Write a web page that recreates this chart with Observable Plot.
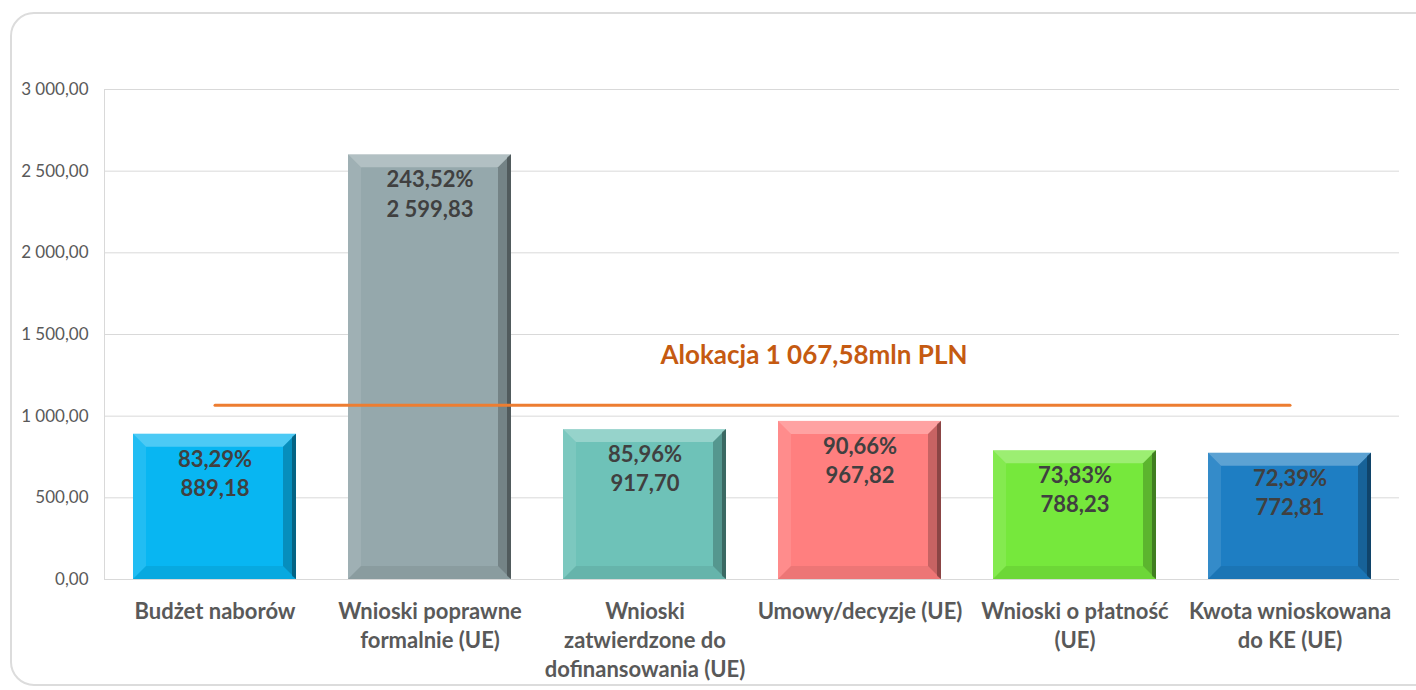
<!DOCTYPE html>
<html>
<head>
<meta charset="utf-8">
<script src="https://cdn.jsdelivr.net/npm/d3@7"></script>
<script src="https://cdn.jsdelivr.net/npm/@observablehq/plot@0.6"></script>
<style>
  html, body { margin: 0; padding: 0; background: #fff; }
  #wrap { position: relative; width: 1416px; height: 690px; overflow: hidden; }
  #border { position: absolute; left: 10px; top: 12px; width: 1430px; height: 674px;
            border: 2px solid #dcdcdc; border-radius: 24px; box-sizing: border-box; }
  #chart { position: absolute; left: 0; top: 0; }
</style>
</head>
<body>
<div id="wrap"><div id="border"></div><div id="chart"></div></div>
<script>
const categories = [
  "Budżet naborów",
  "Wnioski poprawne formalnie (UE)",
  "Wnioski zatwierdzone do dofinansowania (UE)",
  "Umowy/decyzje (UE)",
  "Wnioski o płatność (UE)",
  "Kwota wnioskowana do KE (UE)"
];
const categoryLabels = [
  "Budżet naborów",
  "Wnioski poprawne\nformalnie (UE)",
  "Wnioski\nzatwierdzone do\ndofinansowania (UE)",
  "Umowy/decyzje (UE)",
  "Wnioski o płatność\n(UE)",
  "Kwota wnioskowana\ndo KE (UE)"
];
const values = [889.18, 2599.83, 917.70, 967.82, 788.23, 772.81];
const percents = ["83,29%", "243,52%", "85,96%", "90,66%", "73,83%", "72,39%"];
const colors = ["#08B6F2", "#95A8AC", "#6EC2B8", "#FF7F7F", "#76E83C", "#1E7EC3"];
const yTicks = [0, 500, 1000, 1500, 2000, 2500, 3000];
const allocation = 1067.58;
const allocationLabel = "Alokacja 1 067,58mln PLN";

const pl = d3.formatLocale({decimal: ",", thousands: "\u00a0", grouping: [3], currency: ["", ""]});
const fmt = pl.format(",.2f");

const data = categories.map((c, i) => ({
  cat: c, value: values[i], color: colors[i],
  label: percents[i] + "\n" + fmt(values[i])
}));
const labelMap = new Map(categories.map((c, i) => [c, categoryLabels[i]]));

function bevel(index, scales, vals, dimensions, context, next) {
  const g = next(index, scales, vals, dimensions, context);
  const ns = "http://www.w3.org/2000/svg";
  const rects = Array.from(g.querySelectorAll("rect"));
  for (const r of rects) {
    const x = +r.getAttribute("x"), y = +r.getAttribute("y");
    const w = +r.getAttribute("width"), h = +r.getAttribute("height");
    const b = Math.min(13, h / 2, w / 2);
    const polys = [
      [[[x, y], [x + w, y], [x + w - b, y + b], [x + b, y + b]], "white", 0.28],
      [[[x, y], [x + b, y + b], [x + b, y + h - b], [x, y + h]], "white", 0.1],
      [[[x + w, y], [x + w, y + h], [x + w - b, y + h - b], [x + w - b, y + b]], "black", 0.22],
      [[[x, y + h], [x + w, y + h], [x + w - b, y + h - b], [x + b, y + h - b]], "black", 0.07],
      [[[x + w - 4, y + 3], [x + w, y], [x + w, y + h], [x + w - 4, y + h - 3]], "black", 0.3]
    ];
    for (const [pts, fill, op] of polys) {
      const p = document.createElementNS(ns, "polygon");
      p.setAttribute("points", pts.map(d => d.join(",")).join(" "));
      p.setAttribute("fill", fill);
      p.setAttribute("fill-opacity", op);
      g.appendChild(p);
    }
  }
  return g;
}

function leftAxisLine(index, scales, vals, dimensions) {
  const ns = "http://www.w3.org/2000/svg";
  const l = document.createElementNS(ns, "line");
  const x = dimensions.marginLeft + 0.5;
  l.setAttribute("x1", x); l.setAttribute("x2", x);
  l.setAttribute("y1", scales.y(yTicks[yTicks.length - 1]));
  l.setAttribute("y2", scales.y(0));
  l.setAttribute("stroke", "#d9d9d9");
  l.setAttribute("stroke-width", 1);
  return l;
}

const plot = Plot.plot({
  width: 1416,
  height: 690,
  marginLeft: 104,
  marginRight: 17,
  marginTop: 89,
  marginBottom: 111,
  style: {fontFamily: "Lato, 'Open Sans', sans-serif", color: "#595959", background: "transparent"},
  x: {domain: categories, padding: 0, label: null},
  y: {domain: [0, 3000], label: null},
  marks: [
    Plot.ruleY(yTicks, {stroke: "#d9d9d9", strokeWidth: 1}),
    leftAxisLine,
    Plot.axisY({ticks: yTicks, tickSize: 0, tickPadding: 16, tickFormat: fmt, fontSize: 17, fill: "#595959", label: null}),
    Plot.axisX({tickSize: 0, tickPadding: 19, tickFormat: d => labelMap.get(d), fontSize: 22, fontWeight: "bold",
                lineHeight: 1.32, fill: "#595959", label: null}),
    Plot.barY(data, {x: "cat", y: "value", fill: "color", insetLeft: 26, insetRight: 26, render: bevel}),
    Plot.lineY([categories[0], categories[categories.length - 1]], {x: d => d, y: () => allocation,
                stroke: "#ED7D31", strokeWidth: 3}),
    Plot.text([allocationLabel], {x: () => categories[3], y: () => allocation, dx: -46, dy: -49,
                text: d => d, fill: "#C55A11", fontSize: 26, fontWeight: "bold"}),
    Plot.text(data, {x: "cat", y: "value", text: "label", lineAnchor: "top", dy: 12, fill: "#404040",
                fontSize: 22, fontWeight: "bold", lineHeight: 1.32})
  ]
});
document.getElementById("chart").appendChild(plot);
</script>
</body>
</html>
